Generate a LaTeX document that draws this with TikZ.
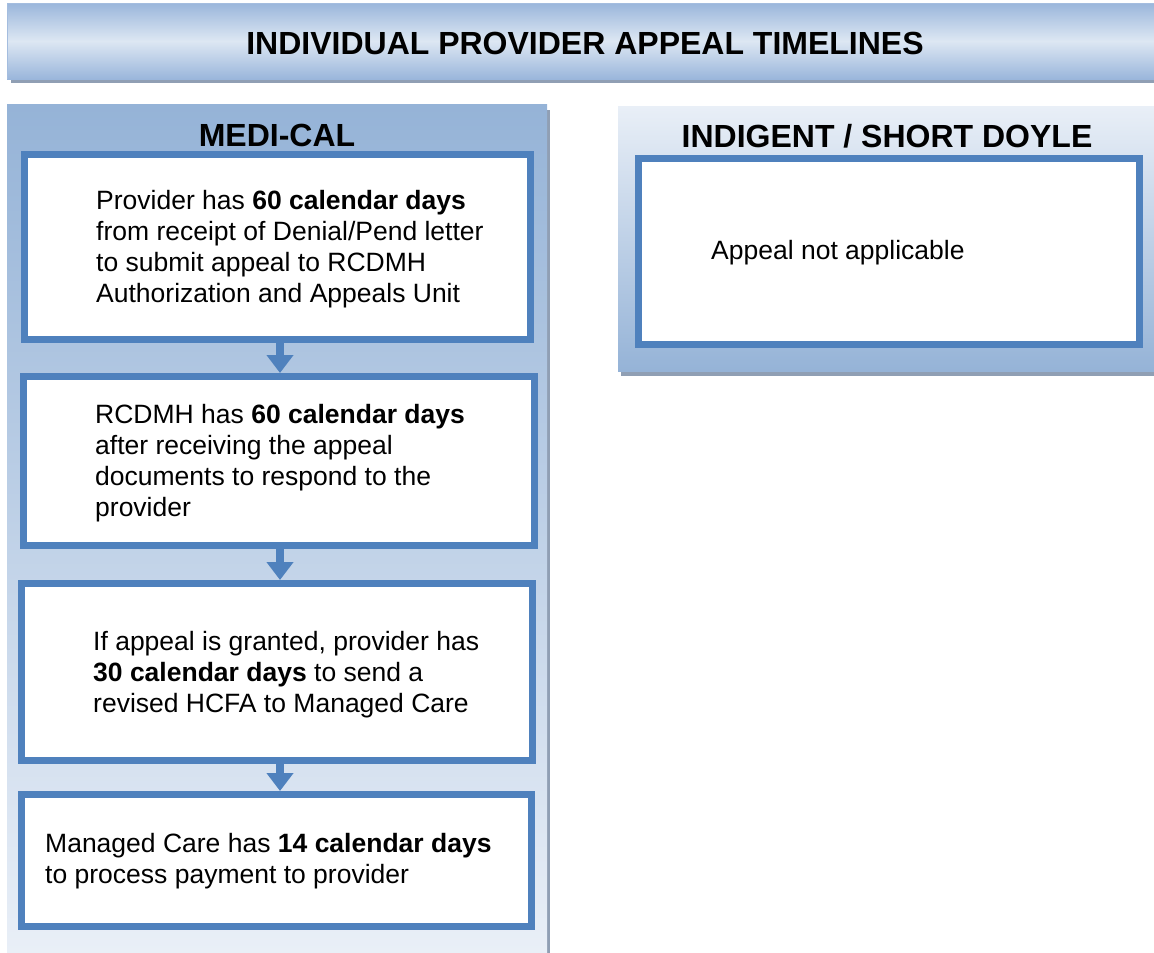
\documentclass[tikz,border=0pt]{standalone}
\usepackage{fontspec}
\setmainfont{Liberation Sans}
\usetikzlibrary{arrows.meta}

\definecolor{boxblue}{HTML}{4F81BD}
\definecolor{paneldark}{HTML}{95B3D7}
\definecolor{panellight}{HTML}{E9EFF7}
\definecolor{shadowgrey}{HTML}{909FB4}
\definecolor{bannerlight}{HTML}{DDE7F3}
\definecolor{bannerdark}{HTML}{9AB6DB}

\tikzset{
  stepbox/.style={draw=boxblue, line width=7pt, fill=white, rectangle,
    inner sep=0pt, outer sep=0pt, anchor=north west},
  bodytext/.style={inner sep=0pt, align=left, anchor=north west,
    font=\fontsize{26.5}{31}\selectfont},
  headtext/.style={inner sep=0pt, anchor=base,
    font=\bfseries\fontsize{32}{38}\selectfont},
  flowarrow/.style={draw=boxblue, line width=8.5pt,
    -{Triangle[width=26pt,length=18pt]}, shorten >=3.5pt}
}

\newcommand{\firstline}{\rule{0pt}{21pt}}

\begin{document}
\begin{tikzpicture}[x=1pt,y=-1pt]
  \useasboundingbox (0,0) rectangle (1154,953);

  % title banner with drop shadow
  \fill[shadowgrey] (11,79) rectangle (1154,83);
  \shade[shading angle=-45, top color=bannerdark, bottom color=bannerdark,
         middle color=bannerlight] (7,3) rectangle (1154,79);
  \draw[line width=0.8pt, color=bannerdark!90!white] (1154,3.4) -- (7.4,3.4) -- (7.4,79);
  \node[headtext] (title) at (585,54) {INDIVIDUAL PROVIDER APPEAL TIMELINES};

  % Medi-Cal panel
  \fill[shadowgrey] (547,110) rectangle (549.5,953);
  \shade[top color=paneldark, bottom color=panellight] (7,104) rectangle (547,953);
  \node[headtext] (medical) at (277,146) {MEDI-CAL};

  % Indigent / Short Doyle panel
  \fill[shadowgrey] (621,371) rectangle (1154,376);
  \shade[top color=panellight, bottom color=paneldark] (618,106) rectangle (1154,371);
  \node[headtext] (indigent) at (887,147) {INDIGENT / SHORT DOYLE};

  % Medi-Cal steps
  \node[stepbox, minimum width=506pt, minimum height=185pt] (b1) at (24.5,154.5) {};
  \node[stepbox, minimum width=511pt, minimum height=169pt] (b2) at (23.5,376.5) {};
  \node[stepbox, minimum width=511pt, minimum height=177pt] (b3) at (21.5,583.5) {};
  \node[stepbox, minimum width=510pt, minimum height=132pt] (b4) at (21.5,794.5) {};

  % arrows run down a common axis slightly right of the box centres
  \coordinate (axis) at (280,0);
  \draw[flowarrow] (axis |- b1.south) -- (axis |- b2.north);
  \draw[flowarrow] (axis |- b2.south) -- (axis |- b3.north);
  \draw[flowarrow] (axis |- b3.south) -- (axis |- b4.north);

  \node[bodytext] (t1) at (96,188) {\firstline Provider has \textbf{60 calendar days}\\
    from receipt of Denial/Pend letter\\
    to submit appeal to RCDMH\\
    Authorization and Appeals Unit};
  \node[bodytext] (t2) at (95,402) {\firstline RCDMH has \textbf{60 calendar days}\\
    after receiving the appeal\\
    documents to respond to the\\
    provider};
  \node[bodytext] (t3) at (93,629) {\firstline If appeal is granted, provider has\\
    \textbf{30 calendar days} to send a\\
    revised HCFA to Managed Care};
  \node[bodytext] (t4) at (45,831) {\firstline Managed Care has \textbf{14 calendar days}\\
    to process payment to provider};

  % Indigent / Short Doyle step
  \node[stepbox, minimum width=501pt, minimum height=186pt] (b5) at (638.5,158.5) {};
  \node[inner sep=0pt, anchor=base west, font=\fontsize{26.5}{31}\selectfont]
    (t5) at (711,259) {Appeal not applicable};
\end{tikzpicture}
\end{document}
